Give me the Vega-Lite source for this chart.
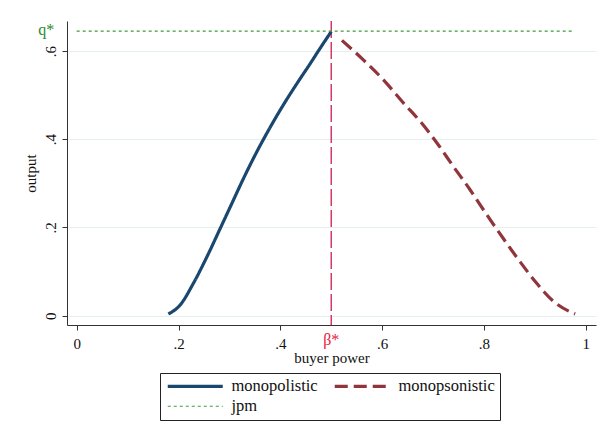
{
  "$schema": "https://vega.github.io/schema/vega-lite/v6.json",
  "autosize": "none",
  "width": 529,
  "height": 304,
  "padding": {"left": 67, "top": 21, "right": 10, "bottom": 118},
  "background": "white",
  "config": {
    "view": {"stroke": null},
    "font": "Liberation Serif",
    "axis": {
      "labelFont": "Liberation Serif",
      "titleFont": "Liberation Serif",
      "labelFontSize": 15,
      "titleFontSize": 15,
      "titleFontWeight": "normal",
      "labelColor": "#111",
      "titleColor": "#111",
      "domainColor": "#333",
      "tickColor": "#333",
      "tickSize": 5
    },
    "legend": {
      "labelFont": "Liberation Serif",
      "labelFontSize": 16.5,
      "labelColor": "#111"
    }
  },
  "datasets": {
    "curves": [
      {"series": "monopolistic", "x": 0.18, "y": 0.004},
      {"series": "monopolistic", "x": 0.203, "y": 0.024},
      {"series": "monopolistic", "x": 0.229, "y": 0.073},
      {"series": "monopolistic", "x": 0.256, "y": 0.134},
      {"series": "monopolistic", "x": 0.282, "y": 0.198},
      {"series": "monopolistic", "x": 0.305, "y": 0.255},
      {"series": "monopolistic", "x": 0.328, "y": 0.312},
      {"series": "monopolistic", "x": 0.354, "y": 0.372},
      {"series": "monopolistic", "x": 0.38, "y": 0.427},
      {"series": "monopolistic", "x": 0.406, "y": 0.478},
      {"series": "monopolistic", "x": 0.433, "y": 0.527},
      {"series": "monopolistic", "x": 0.459, "y": 0.572},
      {"series": "monopolistic", "x": 0.478, "y": 0.606},
      {"series": "monopolistic", "x": 0.5, "y": 0.644},
      {"series": "monopsonistic", "x": 0.521, "y": 0.624},
      {"series": "monopsonistic", "x": 0.563, "y": 0.58},
      {"series": "monopsonistic", "x": 0.603, "y": 0.534},
      {"series": "monopsonistic", "x": 0.642, "y": 0.482},
      {"series": "monopsonistic", "x": 0.675, "y": 0.44},
      {"series": "monopsonistic", "x": 0.708, "y": 0.391},
      {"series": "monopsonistic", "x": 0.74, "y": 0.338},
      {"series": "monopsonistic", "x": 0.773, "y": 0.285},
      {"series": "monopsonistic", "x": 0.806, "y": 0.228},
      {"series": "monopsonistic", "x": 0.838, "y": 0.175},
      {"series": "monopsonistic", "x": 0.871, "y": 0.122},
      {"series": "monopsonistic", "x": 0.904, "y": 0.073},
      {"series": "monopsonistic", "x": 0.937, "y": 0.032},
      {"series": "monopsonistic", "x": 0.979, "y": 0.004},
      {"series": "jpm", "x": 0.0, "y": 0.645},
      {"series": "jpm", "x": 0.975, "y": 0.645}
    ],
    "marks": [
      {"label": "q*", "x": -0.06, "y": 0.647, "kind": "q"},
      {"label": "β*", "x": 0.5, "y": -0.056, "kind": "b"}
    ]
  },
  "layer": [
    {
      "data": {"values": [{"x": 0.5}]},
      "mark": {"type": "rule", "color": "#d23c66", "strokeWidth": 1.5, "strokeDash": [17, 4]},
      "encoding": {
        "x": {"field": "x", "type": "quantitative"}
      }
    },
    {
      "data": {"name": "curves"},
      "mark": {"type": "line", "interpolate": "monotone", "strokeCap": "butt"},
      "encoding": {
        "x": {
          "field": "x", "type": "quantitative",
          "scale": {"domain": [-0.019, 1.02], "nice": false, "zero": false},
          "axis": {
            "values": [0, 0.2, 0.4, 0.6, 0.8, 1],
            "grid": false,
            "title": "buyer power",
            "labelExpr": "datum.value == 0 ? '0' : datum.value == 1 ? '1' : replace(format(datum.value, '.1f'), '0.', '.')",
            "labelPadding": 6,
            "titlePadding": -1
          }
        },
        "y": {
          "field": "y", "type": "quantitative",
          "scale": {"domain": [-0.021, 0.668], "nice": false, "zero": false},
          "axis": {
            "values": [0, 0.2, 0.4, 0.6],
            "grid": true,
            "gridColor": "#e6eff0",
            "gridWidth": 1.2,
            "title": "output",
            "labelAngle": -90,
            "labelExpr": "datum.value == 0 ? '0' : replace(format(datum.value, '.1f'), '0.', '.')",
            "labelPadding": 4,
            "titlePadding": 5
          }
        },
        "color": {
          "field": "series", "type": "nominal",
          "scale": {"domain": ["monopolistic", "monopsonistic", "jpm"], "range": ["#1a476f", "#90353b", "#3c9a3c"]},
          "legend": {
            "title": null,
            "orient": "none",
            "legendX": 93,
            "legendY": 352,
            "direction": "horizontal",
            "columns": 2,
            "symbolType": "M-1,0H9",
            "symbolSize": 121,
            "symbolStrokeWidth": 3.2,
            "labelOffset": 50,
            "columnPadding": 10,
            "rowPadding": 3,
            "padding": 5,
            "strokeColor": "#222",
            "labelLimit": 300,
            "encode": {
              "symbols": {
                "update": {
                  "strokeDash": {"signal": "datum.value === 'monopsonistic' ? [13, 6] : datum.value === 'jpm' ? [3, 3] : [1, 0]"},
                  "strokeWidth": {"signal": "datum.value === 'jpm' ? 1.2 : 3.2"}
                }
              }
            }
          }
        },
        "strokeDash": {
          "condition": [
            {"test": "datum.series === 'monopsonistic'", "value": [13, 6]},
            {"test": "datum.series === 'jpm'", "value": [3, 3]}
          ],
          "value": [1, 0]
        },
        "strokeWidth": {
          "condition": {"test": "datum.series === 'jpm'", "value": 1.2},
          "value": 3.2
        }
      }
    },
    {
      "data": {"name": "marks"},
      "mark": {"type": "text", "fontSize": 16, "font": "Liberation Serif", "align": "center", "baseline": "middle"},
      "encoding": {
        "x": {"field": "x", "type": "quantitative"},
        "y": {"field": "y", "type": "quantitative"},
        "text": {"field": "label"},
        "color": {
          "field": "kind", "type": "nominal",
          "scale": {"domain": ["q", "b"], "range": ["#2a8a2a", "#e8203a"]},
          "legend": null
        }
      }
    }
  ],
  "resolve": {"scale": {"color": "independent"}}
}
